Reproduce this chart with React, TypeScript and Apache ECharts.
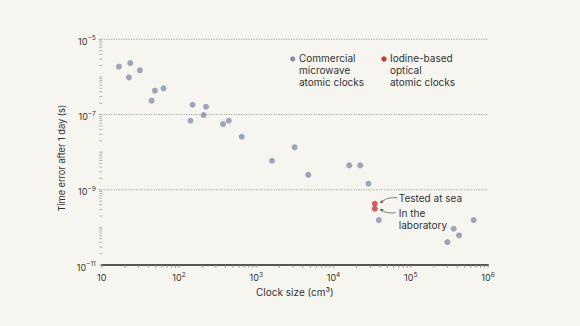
import React, { useEffect, useRef } from "react";
import * as echarts from "echarts";

// ---- data ----
const commercialName = "Commercial\nmicrowave\natomic clocks";
const iodineName = "Iodine-based\noptical\natomic clocks";

const commercialX = [16.7, 23.4, 22.5, 31.2, 48.8, 44.3, 63.2, 150, 224, 141, 208, 372, 441, 650, 1600, 3140, 4720, 16000, 22200, 28400, 38600, 359000, 422000, 298000, 652000];
const commercialY = [1.87e-6, 2.34e-6, 9.75e-7, 1.5e-6, 4.3e-7, 2.33e-7, 4.98e-7, 1.82e-7, 1.61e-7, 6.84e-8, 9.7e-8, 5.58e-8, 6.84e-8, 2.57e-8, 5.9e-9, 1.34e-8, 2.5e-9, 4.46e-9, 4.46e-9, 1.45e-9, 1.56e-10, 9.2e-11, 6.1e-11, 4.07e-11, 1.56e-10];

const iodineX = [34300, 34300];
const iodineY = [4.25e-10, 3.13e-10];
const iodineNotes = ["Tested at sea", "In the\nlaboratory"];

const xMin = 10;
const xMax = 1e6;
const yMin = 1e-11;
const yMax = 1e-5;
const xDecades = [1, 2, 3, 4, 5];
const yDecades = [-11, -10, -9, -8, -7, -6];
const logMultipliers = [1, 2, 3, 4, 5, 6, 7, 8, 9];
const yGridLines = [1e-5, 1e-7, 1e-9];
const yLabelExps = [-11, -9, -7, -5];

const xAxisTitle = "Clock size (cm³)";
const yAxisTitle = "Time error after 1 day (s)";

// ---- styles ----
const BG = "#f6f5ef";
const FONT = "Inter, 'Noto Sans', sans-serif";
const TEXT = "#333333";
const GRAY = "#8791ad";
const RED = "#c5383b";

const xTickValues: number[] = [];
xDecades.forEach((d) => logMultipliers.forEach((m) => xTickValues.push(m * Math.pow(10, d))));
xTickValues.push(xMax);
const yTickValues: number[] = [];
yDecades.forEach((d) => logMultipliers.forEach((m) => yTickValues.push(m * Math.pow(10, d))));
yTickValues.push(yMax);

const supRich = {
  b: { fontSize: 9, fontFamily: FONT, color: TEXT, verticalAlign: "bottom", lineHeight: 13 },
  s: { fontSize: 6.5, fontFamily: FONT, color: TEXT, verticalAlign: "bottom", lineHeight: 13, padding: [0, 0, 4, 0] },
};

function expOf(v: number) {
  return Math.round(Math.log10(v));
}

function arrowHead(tip: number[], from: number[]) {
  const dx = tip[0] - from[0];
  const dy = tip[1] - from[1];
  const len = Math.sqrt(dx * dx + dy * dy) || 1;
  const ux = dx / len;
  const uy = dy / len;
  const L = 3.2;
  const W = 1.6;
  const bx = tip[0] - ux * L;
  const by = tip[1] - uy * L;
  return [tip, [bx - uy * W, by + ux * W], [bx + uy * W, by - ux * W]];
}

export default function App() {
  const ref = useRef<HTMLDivElement>(null);

  useEffect(() => {
    document.body.style.margin = "0";
    document.body.style.background = BG;
    const chart = echarts.init(ref.current!, null, { renderer: "svg" });

    const option: any = {
      animation: false,
      backgroundColor: BG,
      textStyle: { fontFamily: FONT, color: TEXT },
      grid: { left: 101.7, right: 92, top: 39.3, bottom: 61, containLabel: false },
      xAxis: {
        type: "log",
        logBase: 10,
        min: xMin,
        max: xMax,
        name: xAxisTitle,
        nameLocation: "middle",
        nameGap: 19.5,
        nameTextStyle: { fontSize: 10, fontFamily: FONT, color: TEXT, verticalAlign: "top" },
        axisLine: { show: true, lineStyle: { color: "#555555", width: 2 } },
        axisTick: { show: false },
        splitLine: { show: false },
        axisLabel: {
          margin: 4,
          formatter: (v: number) => {
            const e = expOf(v);
            return e === 1 ? "{b|10}" : "{b|10}{s|" + e + "}";
          },
          rich: supRich,
        },
      },
      yAxis: {
        type: "log",
        logBase: 10,
        min: yMin,
        max: yMax,
        name: yAxisTitle,
        nameLocation: "middle",
        nameGap: 22,
        nameTextStyle: { fontSize: 9.2, fontFamily: FONT, color: TEXT, padding: [0, 12, 0, 0] },
        axisLine: { show: false },
        axisTick: { show: false },
        splitLine: { show: false },
        axisLabel: {
          margin: 6,
          formatter: (v: number) => {
            const e = expOf(v);
            return yLabelExps.indexOf(e) >= 0 ? "{b|10}{s|−" + Math.abs(e) + "}" : "";
          },
          rich: supRich,
        },
      },
      series: [
        {
          type: "custom",
          silent: true,
          clip: false,
          data: yGridLines.map((v) => [xMin, v]),
          renderItem: (params: any, api: any) => {
            const a = api.coord([xMin, api.value(1)]);
            const b = api.coord([xMax, api.value(1)]);
            return {
              type: "line",
              shape: { x1: a[0] - 3, y1: a[1], x2: b[0], y2: b[1] },
              style: { stroke: "#8f8f8f", lineWidth: 1, lineDash: [1, 1.5] },
            };
          },
          z: 1,
        },
        {
          name: commercialName,
          type: "scatter",
          symbol: "circle",
          symbolSize: 6,
          itemStyle: { color: GRAY },
          data: commercialX.map((x, i) => [x, commercialY[i]]),
          z: 3,
        },
        {
          name: iodineName,
          type: "scatter",
          symbol: "circle",
          symbolSize: 6,
          itemStyle: { color: RED },
          data: iodineX.map((x, i) => [x, iodineY[i]]),
          z: 4,
        },
        {
          type: "custom",
          silent: true,
          clip: false,
          data: yTickValues.map((v) => [xMin, v]),
          renderItem: (params: any, api: any) => {
            const p = api.coord([api.value(0), api.value(1)]);
            return {
              type: "line",
              shape: { x1: p[0] - 2.5, y1: p[1], x2: p[0] + 0.5, y2: p[1] },
              style: { stroke: "#b5b5b5", lineWidth: 1 },
            };
          },
          z: 2,
        },
        {
          type: "custom",
          silent: true,
          clip: false,
          data: xTickValues.map((v) => [v, yMin]),
          renderItem: (params: any, api: any) => {
            const p = api.coord([api.value(0), api.value(1)]);
            return {
              type: "line",
              shape: { x1: p[0], y1: p[1], x2: p[0], y2: p[1] + 2.5 },
              style: { stroke: "#888888", lineWidth: 1 },
            };
          },
          z: 2,
        },
      ],
    };

    chart.setOption(option);

    const p1 = chart.convertToPixel({ gridIndex: 0 }, [iodineX[0], iodineY[0]]) as number[];
    const p2 = chart.convertToPixel({ gridIndex: 0 }, [iodineX[1], iodineY[1]]) as number[];

    const line1 = [
      [p1[0] + 22.5, p1[1] - 6],
      [p1[0] + 13, p1[1] - 5.4],
      [p1[0] + 5, p1[1] - 0.8],
    ];
    const line2 = [
      [p2[0] + 21, p2[1] + 4],
      [p2[0] + 12, p2[1] + 3.8],
      [p2[0] + 5, p2[1] + 0.4],
    ];
    const stroke = "#5a5a5a";
    const legendText = { fontSize: 10, fontFamily: FONT, fill: TEXT, verticalAlign: "top", lineHeight: 12 };

    chart.setOption({
      graphic: [
        // legend
        { type: "circle", shape: { cx: 292.7, cy: 59, r: 2.7 }, style: { fill: GRAY } },
        { type: "text", x: 299, y: 52.3, style: { ...legendText, text: commercialName } },
        { type: "circle", shape: { cx: 384, cy: 59, r: 2.7 }, style: { fill: RED } },
        { type: "text", x: 390, y: 52.3, style: { ...legendText, text: iodineName } },
        // annotations
        {
          type: "text",
          x: p1[0] + 24,
          y: p1[1] - 5.4 - 6,
          style: { ...legendText, text: iodineNotes[0] },
        },
        {
          type: "text",
          x: p2[0] + 24,
          y: p2[1] + 4 - 6,
          style: { ...legendText, text: iodineNotes[1] },
        },
        { type: "polyline", shape: { points: line1, smooth: 0.3 }, style: { stroke, lineWidth: 0.8, fill: null } },
        { type: "polyline", shape: { points: line2, smooth: 0.3 }, style: { stroke, lineWidth: 0.8, fill: null } },
        { type: "polygon", shape: { points: arrowHead(line1[2], line1[1]) }, style: { fill: stroke } },
        { type: "polygon", shape: { points: arrowHead(line2[2], line2[1]) }, style: { fill: stroke } },
      ],
    });

    return () => chart.dispose();
  }, []);

  return (
    <div
      ref={ref}
      style={{ position: "absolute", left: 0, top: 0, width: 580, height: 326, background: BG }}
    />
  );
}
